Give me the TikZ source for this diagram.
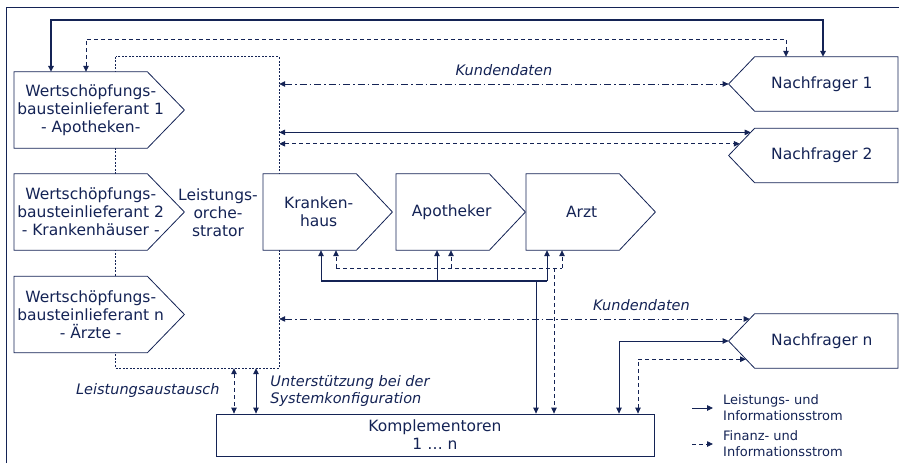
\documentclass[tikz,border=0pt]{standalone}
\usepackage{fontspec}
\setmainfont{DejaVu Sans}
\usetikzlibrary{arrows.meta, calc, backgrounds}
\definecolor{navy}{RGB}{20,35,85}

\begin{document}
\begin{tikzpicture}[x=1pt, y=-1pt,
  >={Triangle[length=6pt,width=5.5pt]},
  every node/.style={text=navy, font=\fontsize{15.5}{18}\selectfont},
  lief/.style={minimum width=153, minimum height=76, inner sep=0pt, align=center, anchor=west},
  partner/.style={minimum width=111, minimum height=76, inner sep=0pt, align=center, anchor=west},
  nach/.style={minimum width=152, minimum height=54, inner sep=0pt, anchor=east},
  outline/.style={draw=navy, line width=0.8pt, fill=white},
  lflow/.style={navy, line width=0.8pt},
  fflow/.style={navy, line width=0.8pt, dash pattern=on 4pt off 3pt},
  kflow/.style={navy, line width=0.8pt, dash pattern=on 7pt off 3pt on 1.5pt off 3pt},
  lab/.style={font=\fontsize{14.5}{17}\selectfont\itshape, inner sep=2pt},
  legtext/.style={font=\fontsize{13}{16}\selectfont, align=left, anchor=west, inner sep=2pt}]
\useasboundingbox (0,0) rectangle (899,463);

% Frame
\draw[navy, line width=0.8pt] (6,463) -- (6,7) -- (899,7);

% Lieferanten
\node[lief] (w1) at (14,110) {Wertschöpfungs-\\bausteinlieferant 1\\- Apotheken-};
\node[lief] (w2) at (14,212) {Wertschöpfungs-\\bausteinlieferant 2\\- Krankenhäuser -};
\node[lief] (wn) at (14,314.5) {Wertschöpfungs-\\bausteinlieferant n\\- Ärzte -};

% Orchestrator
\node[minimum width=163, minimum height=311, inner sep=0pt] (orch) at (197.5,212.5) {};
\node[align=center] (orchtxt) at (218,213) {Leistungs-\\orche-\\strator};

% Partner
\node[partner] (kh) at (263,212) {Kranken-\\haus};
\node[partner] (apo) at (396,212) {Apotheker};
\node[partner] (arzt) at (526,212) {Arzt};

% Nachfrager
\node[nach] (n1) at (898,84) {Nachfrager 1};
\node[nach] (n2) at (898,155.5) {Nachfrager 2};
\node[nach] (nn) at (898,341) {Nachfrager n};

% Komplementoren
\node[draw=navy, line width=0.8pt, minimum width=438, minimum height=42, inner sep=0pt, align=center] (komp) at (435,435) {Komplementoren\\1 … n};

% Outlines
\begin{pgfonlayer}{background}
  \draw[navy, line width=0.7pt, dash pattern=on 2pt off 1.5pt] (orch.north west) rectangle (orch.south east);
  \foreach \p in {w1,w2,wn}
    \draw[outline] (\p.north west) -- ([xshift=-20]\p.north east) -- ([xshift=17]\p.east) -- ([xshift=-20]\p.south east) -- (\p.south west) -- cycle;
  \foreach \p in {kh,apo,arzt}
    \draw[outline] (\p.north west) -- ([xshift=-18]\p.north east) -- ([xshift=18]\p.east) -- ([xshift=-18]\p.south east) -- (\p.south west) -- cycle;
  \foreach \p in {n1,n2,nn}
    \draw[outline] (\p.north east) -- ([xshift=9]\p.north west) -- ([xshift=-17]\p.west) -- ([xshift=9]\p.south west) -- (\p.south east) -- cycle;
\end{pgfonlayer}

\coordinate (n1tip) at ([xshift=-17]n1.west);
\coordinate (n2tip) at ([xshift=-17]n2.west);
\coordinate (n2top) at ([xshift=9]n2.north west);
\coordinate (nntip) at ([xshift=-17]nn.west);
\coordinate (nntop) at ([xshift=9]nn.north west);
\coordinate (nnbot) at ([xshift=9]nn.south west);
\coordinate (n2a) at ($(n2tip)!0.85!(n2top)$);
\coordinate (n2b) at ($(n2tip)!0.43!(n2top)$);
\coordinate (nna) at ($(nntip)!0.81!(nntop)$);
\coordinate (nnb) at ($(nntip)!0.67!(nnbot)$);

% Top loops
\draw[lflow, line width=2pt, <->] (51,0 |- w1.north) -- (51,20) -| (823,0 |- n1.north);
\draw[fflow, <->] (86,0 |- w1.north) -- (86,39) -| (786,0 |- n1.north);

% Orchestrator - Nachfrager
\draw[kflow, <->] (orch.east |- n1tip) -- node[lab, above=5.5pt] (kd1) {Kundendaten} (n1tip);
\draw[lflow, <->] (orch.east |- n2a) -- (n2a);
\draw[fflow, <->] (orch.east |- n2b) -- (n2b);
\draw[kflow, <->] (orch.east |- nna) -- node[lab, above=6pt, pos=0.77] (kd2) {Kundendaten} (nna);

% Nachfrager n - Komplementoren
\draw[lflow, <->] (nntip) -| (619,0 |- komp.north);
\draw[fflow, <->] (nnb) -| (638,0 |- komp.north);

% Partner bus
\draw[lflow, line width=2pt] (321,281) -- (547,281);
\foreach \x/\p in {321/kh, 437/apo, 547/arzt}
  \draw[lflow, ->] (\x,281) -- (\x,0 |- \p.south);
\draw[lflow, ->] (536,281) -- (536,0 |- komp.north);
\draw[fflow] (336,268) -- (562,268);
\foreach \x/\p in {336/kh, 451/apo, 562/arzt}
  \draw[fflow, ->] (\x,268) -- (\x,0 |- \p.south);
\draw[fflow, ->] (554,268) -- (554,0 |- komp.north);

% Orchestrator - Komplementoren
\draw[fflow, <->] (234,0 |- orch.south) -- node[lab, left=12pt] (la) {Leistungsaustausch} (234,0 |- komp.north);
\draw[lflow, <->] (256,0 |- orch.south) -- node[lab, right=12pt, align=left] (us) {Unterstützung bei der\\Systemkonfiguration} (256,0 |- komp.north);

% Legend
\node[legtext] (leg1) at (721,408) {Leistungs- und\\Informationsstrom};
\node[legtext] (leg2) at (721,444) {Finanz- und\\Informationsstrom};
\draw[lflow, ->] ([xshift=-29]leg1.west) -- ([xshift=-8]leg1.west);
\draw[fflow, ->] ([xshift=-29]leg2.west) -- ([xshift=-8]leg2.west);

\end{tikzpicture}
\end{document}
